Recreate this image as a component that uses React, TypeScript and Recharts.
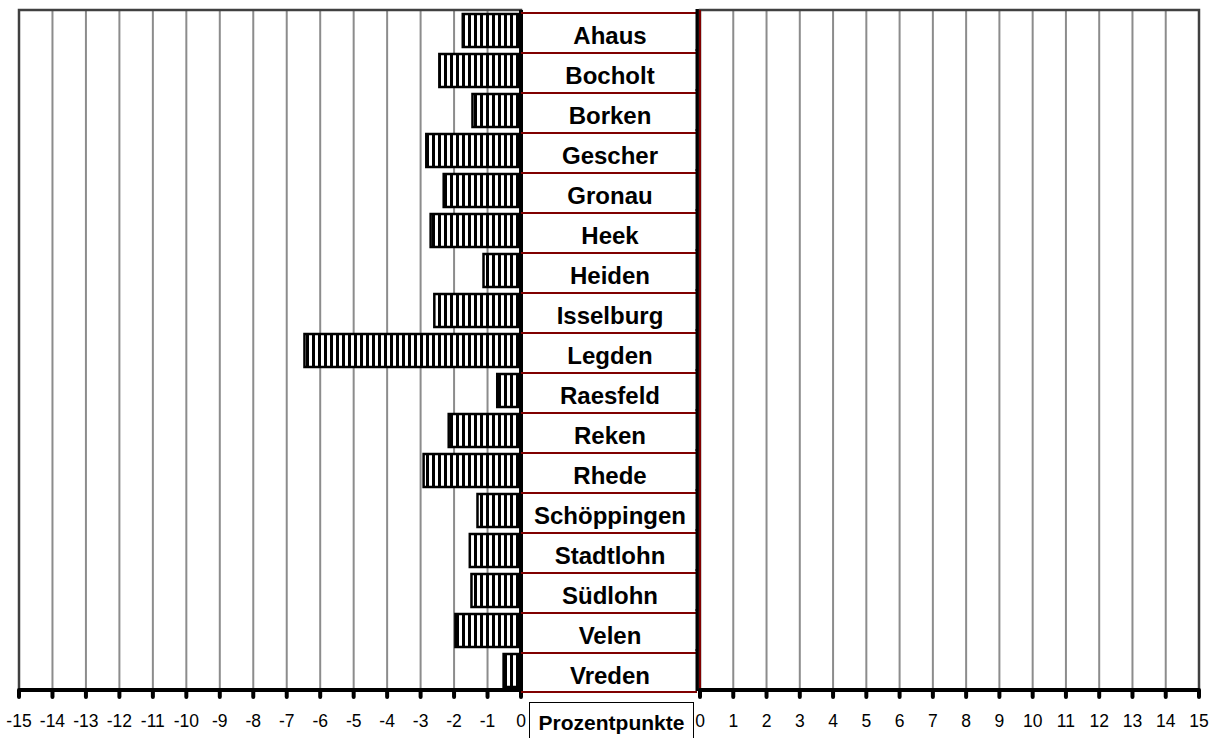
import React from 'react';
import {
  BarChart,
  Bar,
  XAxis,
  YAxis,
  CartesianGrid,
  ReferenceArea,
  ReferenceLine,
} from 'recharts';

const categories = [
  'Ahaus', 'Bocholt', 'Borken', 'Gescher', 'Gronau', 'Heek', 'Heiden', 'Isselburg', 'Legden',
  'Raesfeld', 'Reken', 'Rhede', 'Schöppingen', 'Stadtlohn', 'Südlohn', 'Velen', 'Vreden',
];
const values = [
  -1.74, -2.44, -1.45, -2.83, -2.31, -2.7, -1.12, -2.59, -6.47,
  -0.71, -2.16, -2.91, -1.3, -1.53, -1.48, -1.96, -0.52,
];
const leftTicks = [-15, -14, -13, -12, -11, -10, -9, -8, -7, -6, -5, -4, -3, -2, -1, 0];
const rightTicks = [0, 1, 2, 3, 4, 5, 6, 7, 8, 9, 10, 11, 12, 13, 14, 15];
const unitLabel = 'Prozentpunkte';

const data = categories.map((name, i) => ({ name, value: values[i] }));

const FONT = '"Liberation Sans", Arial, Helvetica, sans-serif';
const TOP = 10;
const AXIS_H = 48;
const HEIGHT = 738;
const ROW = (HEIGHT - TOP - AXIS_H) / categories.length;
const LABEL_W = 178;
const DARK_RED = '#800000';

const axisLine = { stroke: '#000', strokeWidth: 4 };
const tickLine = { stroke: '#000', strokeWidth: 4, strokeLinecap: 'round' as const };
const tickStyle = { fontSize: 17.5, fill: '#000', fontFamily: FONT };

// category label column between the two halves
function CategoryTick(props: any) {
  const { x, y, payload, index } = props;
  const top = y - ROW / 2;
  return (
    <g>
      <line x1={x} x2={x + LABEL_W - 2} y1={top + 3} y2={top + 3} stroke={DARK_RED} strokeWidth={2} />
      {index === categories.length - 1 && (
        <line x1={x} x2={x + LABEL_W - 2} y1={top + ROW + 2} y2={top + ROW + 2} stroke={DARK_RED} strokeWidth={2} />
      )}
      <line x1={x + LABEL_W - 1.5} x2={x + LABEL_W - 1.5} y1={top - 1} y2={top + ROW + 1} stroke="#000" strokeWidth={4} />
      <text
        x={x + LABEL_W / 2}
        y={y + 13.5}
        textAnchor="middle"
        fontFamily={FONT}
        fontWeight="bold"
        fontSize={24}
        fill="#000"
      >
        {payload.value}
      </text>
    </g>
  );
}

export default function App() {
  return (
    <div style={{ position: 'fixed', left: 0, top: 0, width: 1221, height: 738, background: '#fff', overflow: 'hidden' }}>
      <div style={{ position: 'absolute', left: 0, top: 0 }}>
        <BarChart
          width={700}
          height={HEIGHT}
          data={data}
          layout="vertical"
          margin={{ top: TOP, right: 1, left: 19, bottom: 0 }}
        >
          <defs>
            <pattern id="stripes" width="6" height="10" patternUnits="userSpaceOnUse">
              <rect width="6" height="10" fill="#fff" />
              <rect width="3" height="10" fill="#000" />
            </pattern>
          </defs>
          <CartesianGrid horizontal={false} stroke="#8c8c8c" strokeWidth={2} />
          <ReferenceArea x1={-15} x2={0} fill="none" stroke="#404040" strokeWidth={2.5} ifOverflow="extendDomain" />
          <XAxis
            type="number"
            domain={[-15, 0]}
            ticks={leftTicks}
            interval={0}
            height={AXIS_H}
            axisLine={axisLine}
            tickLine={tickLine}
            tickSize={7}
            tickMargin={18}
            tick={tickStyle}
          />
          <YAxis
            type="category"
            dataKey="name"
            orientation="right"
            width={LABEL_W}
            axisLine={axisLine}
            tickLine={false}
            tickSize={0}
            tickMargin={0}
            interval={0}
            tick={<CategoryTick />}
          />
          <Bar dataKey="value" barSize={33} fill="url(#stripes)" stroke="#000" strokeWidth={2.5} isAnimationActive={false} />
        </BarChart>
      </div>
      <div style={{ position: 'absolute', left: 690, top: 0 }}>
        <BarChart
          width={531}
          height={HEIGHT}
          data={data}
          layout="vertical"
          margin={{ top: TOP, right: 22, left: 10, bottom: 0 }}
        >
          <CartesianGrid horizontal={false} stroke="#8c8c8c" strokeWidth={2} />
          <ReferenceArea x1={0} x2={15} fill="none" stroke="#404040" strokeWidth={2.5} ifOverflow="extendDomain" />
          <ReferenceLine x={0} stroke={DARK_RED} strokeWidth={2} ifOverflow="extendDomain" />
          <XAxis
            type="number"
            domain={[0, 15]}
            ticks={rightTicks}
            interval={0}
            height={AXIS_H}
            axisLine={axisLine}
            tickLine={tickLine}
            tickSize={7}
            tickMargin={18}
            tick={tickStyle}
          />
          <YAxis type="category" dataKey="name" hide />
        </BarChart>
      </div>
      <div
        style={{
          position: 'absolute',
          left: 529,
          top: 702,
          width: 163,
          height: 40,
          border: '1px solid #000',
          fontFamily: FONT,
          fontWeight: 'bold',
          fontSize: 21,
          lineHeight: '40px',
          textAlign: 'center',
          color: '#000',
          background: '#fff',
        }}
      >
        {unitLabel}
      </div>
    </div>
  );
}
